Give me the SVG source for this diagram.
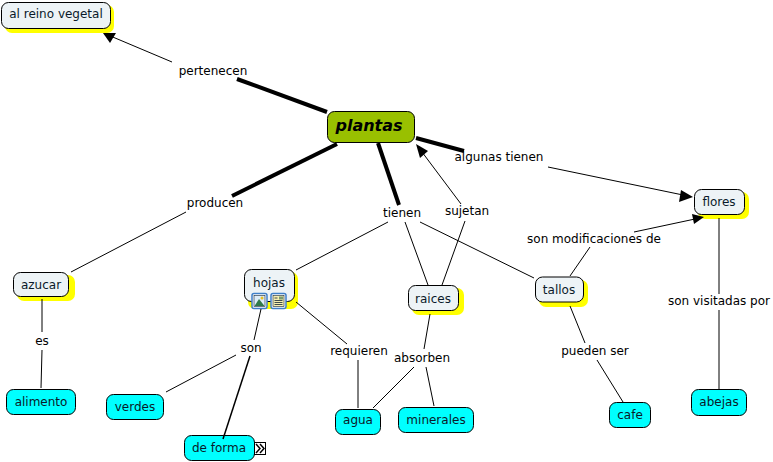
<svg xmlns="http://www.w3.org/2000/svg" width="773" height="462" viewBox="0 0 773 462">
<style>
text{font-family:"DejaVu Sans",Verdana,sans-serif;font-size:12px;fill:#000;text-anchor:middle}
.n text{fill:#0a1a2a}
.shadow{fill:#ffff00}
.g{fill:#edf3f6;stroke:#000;stroke-width:1}
.c{fill:#00ffff;stroke:#000;stroke-width:1}
.l{stroke:#000;stroke-width:1;fill:none}
.t{stroke:#000;stroke-width:4;fill:none}
.a{fill:#000}
.ic{fill:#fff;stroke:#3f7fc8;stroke-width:1.500}
</style>
<rect width="773" height="462" fill="#fff"/>
<g id="n-reino" class="n"><rect class="shadow" x="5" y="5" width="109" height="28" rx="7"/><rect class="g" x="1.500" y="2.500" width="109" height="26" rx="7"/><text x="56" y="18">al reino vegetal</text></g>
<g id="n-plantas"><rect x="327.500" y="111.500" width="87" height="31" rx="7" fill="#99c000" stroke="#000"/><text x="369" y="131" style="font-size:16px;font-weight:bold;font-style:italic">plantas</text></g>
<g id="n-flores" class="n"><rect class="shadow" x="698" y="192" width="51" height="27" rx="7"/><rect class="g" x="694.500" y="189.500" width="50" height="25" rx="7"/><text x="719" y="206">flores</text></g>
<g id="n-azucar" class="n"><rect class="shadow" x="17" y="275" width="58" height="26" rx="7"/><rect class="g" x="13.500" y="272.500" width="55" height="24" rx="7"/><text x="41" y="289">azucar</text></g>
<g id="n-hojas" class="n"><rect class="shadow" x="248" y="272" width="50" height="37" rx="7"/><rect class="g" x="244.500" y="269.500" width="50" height="32" rx="7"/><text x="269" y="287">hojas</text>
<rect class="ic" x="252" y="293.500" width="15" height="15" rx="2"/><rect x="254" y="295.500" width="11" height="11" fill="#dcecf8" stroke="#123" stroke-width="0.600"/><polygon points="254.500,306 259,299 264.500,306" fill="#2f7a4a"/><circle cx="262" cy="298" r="1.500" fill="#e8c020"/>
<rect class="ic" x="271" y="293.500" width="15" height="15" rx="2"/><rect x="273" y="295.500" width="11" height="11" fill="#f6eeb0" stroke="#123" stroke-width="0.600"/><path d="M274.500 298h3M274.500 300.500h8M274.500 302.500h8M274.500 304.500h8" stroke="#123" stroke-width="0.800" fill="none"/><rect x="279" y="296.500" width="4" height="3" fill="#7a9a70"/></g>
<g id="n-raices" class="n"><rect class="shadow" x="412" y="288" width="52" height="27" rx="7"/><rect class="g" x="408.500" y="285.500" width="50" height="25" rx="7"/><text x="433" y="303">raices</text></g>
<g id="n-tallos" class="n"><rect class="shadow" x="539" y="280" width="49" height="27" rx="7"/><rect class="g" x="535.500" y="277" width="48" height="25" rx="7"/><text x="559" y="294">tallos</text></g>
<g id="n-alimento" class="n"><rect class="c" x="6.500" y="389.500" width="69" height="25" rx="7"/><text x="41" y="406">alimento</text></g>
<g id="n-verdes" class="n"><rect class="c" x="106.500" y="394.500" width="57" height="25" rx="7"/><text x="135" y="411">verdes</text></g>
<g id="n-forma" class="n"><rect class="c" x="184.500" y="435.500" width="70" height="25" rx="7"/><text x="219" y="452">de forma</text>
<rect x="254.500" y="442.500" width="11" height="12" fill="#fff" stroke="#000"/><path d="M256 444l4 4.500l-4 4.500M260 444l4 4.500l-4 4.500" fill="none" stroke="#000" stroke-width="1.500"/></g>
<g id="n-agua" class="n"><rect class="c" x="335.500" y="409.500" width="45" height="25" rx="7"/><text x="358" y="424">agua</text></g>
<g id="n-minerales" class="n"><rect class="c" x="398.500" y="407.500" width="75" height="25" rx="7"/><text x="436" y="424">minerales</text></g>
<g id="n-cafe" class="n"><rect class="c" x="609.500" y="402.500" width="41" height="25" rx="7"/><text x="630" y="419">cafe</text></g>
<g id="n-abejas" class="n"><rect class="c" x="691.500" y="389.500" width="55" height="26" rx="7"/><text x="719" y="406">abejas</text></g>
<g id="connectors">
<line class="l" x1="172" y1="62" x2="108" y2="35"/><polygon class="a" points="103,33 116,33 110,43"/>
<line class="t" x1="237" y1="79" x2="327" y2="112"/>
<line class="t" x1="337" y1="144" x2="232" y2="196"/>
<line class="l" x1="186" y1="212" x2="71" y2="272"/>
<line class="t" x1="378" y1="143" x2="399" y2="205"/>
<line class="t" x1="416" y1="138" x2="464" y2="151"/>
<line class="l" x1="548" y1="167" x2="683" y2="195"/><polygon class="a" points="693,197 681,190 679,202"/>
<line class="l" x1="461" y1="204" x2="422" y2="152"/><polygon class="a" points="416,144 428,151 420,158"/>
<line class="l" x1="465" y1="221" x2="442" y2="285"/>
<line class="l" x1="388" y1="222" x2="296" y2="270"/>
<line class="l" x1="405" y1="222" x2="428" y2="285"/>
<line class="l" x1="420" y1="222" x2="534" y2="278"/>
<line class="l" x1="570" y1="276" x2="590" y2="247"/>
<line class="l" x1="634" y1="232" x2="695" y2="219"/><polygon class="a" points="704,217 692,214 694,224"/>
<line class="l" x1="42" y1="299" x2="42" y2="332"/>
<line class="l" x1="42" y1="350" x2="41" y2="388"/>
<line class="l" x1="261" y1="309" x2="254" y2="340"/>
<line class="l" x1="236" y1="355" x2="166" y2="392"/>
<line class="l" x1="250" y1="356" x2="223" y2="439" stroke-width="1.500" style="stroke-width:1.500"/>
<line class="l" x1="296" y1="302" x2="347" y2="344"/>
<line class="l" x1="358" y1="360" x2="358" y2="408"/>
<line class="l" x1="430" y1="314" x2="424" y2="349"/>
<line class="l" x1="414" y1="367" x2="373" y2="408"/>
<line class="l" x1="426" y1="367" x2="434" y2="406"/>
<line class="l" x1="570" y1="306" x2="585" y2="343"/>
<line class="l" x1="597" y1="360" x2="623" y2="402"/>
<line class="l" x1="719" y1="218" x2="719" y2="294"/>
<line class="l" x1="719" y1="310" x2="719" y2="389"/>
</g>
<g id="link-labels">
<text x="213" y="75">pertenecen</text>
<text x="215" y="207">producen</text>
<text x="402" y="217">tienen</text>
<text x="467" y="215">sujetan</text>
<text x="499" y="161">algunas tienen</text>
<text x="594" y="243">son modificaciones de</text>
<text x="719" y="305">son visitadas por</text>
<text x="42" y="345">es</text>
<text x="251" y="352">son</text>
<text x="359" y="355">requieren</text>
<text x="422" y="362">absorben</text>
<text x="595" y="355">pueden ser</text>
</g>
</svg>
